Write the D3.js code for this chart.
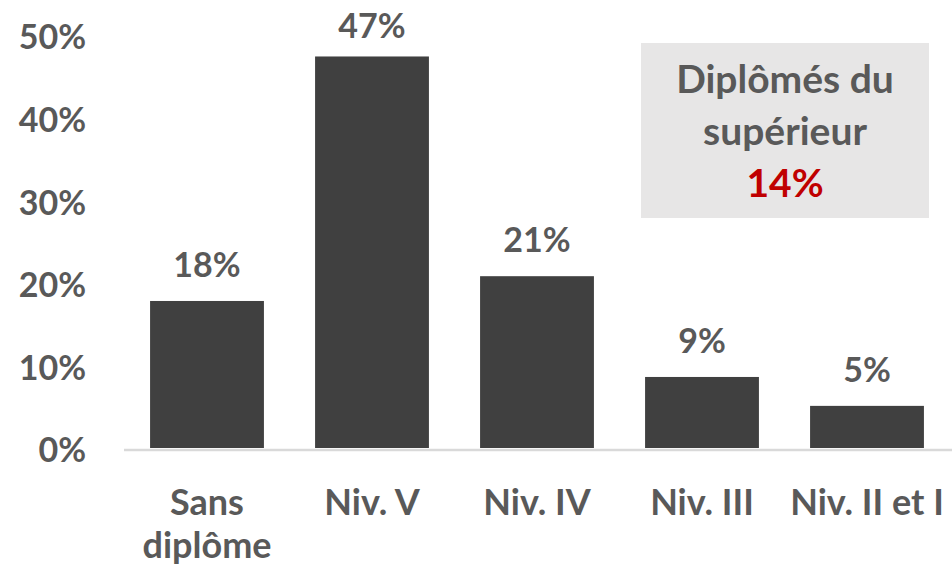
<!DOCTYPE html>
<html><head><meta charset="utf-8">
<script src="https://cdn.jsdelivr.net/npm/d3@7/dist/d3.min.js"></script>
<style>html,body{margin:0;padding:0;background:#fff;}svg{display:block;}</style>
</head><body>
<script>
const categories = [["Sans","diplôme"],["Niv. V"],["Niv. IV"],["Niv. III"],["Niv. II et I"]];
const values = [17.8, 47.4, 20.8, 8.6, 5.1];
const yTicks = [0, 10, 20, 30, 40, 50];
const boxLines = ["Diplômés du", "supérieur"];
const boxValue = "14%";

const W = 952, H = 570;
const FONT = "Lato, 'Open Sans', sans-serif";
const svg = d3.select("body").append("svg").attr("width", W).attr("height", H);

const x = d3.scaleBand().domain(d3.range(categories.length)).range([124.5, 949.5])
  .paddingInner(0.31).paddingOuter(0.155);
const y = d3.scaleLinear().domain([0, 50]).range([448, 35]);

// y axis labels
const yAxis = d3.axisLeft(y).tickValues(yTicks).tickFormat(d => d + "%").tickSize(0).tickPadding(0);
const gy = svg.append("g").attr("transform", "translate(86,2)").call(yAxis);
gy.select(".domain").remove();
gy.selectAll("text").attr("fill", "#595959").style("font-family", FONT)
  .style("font-size", "34px").style("font-weight", "bold").attr("dy", "0.35em");

// bars
svg.selectAll("rect.bar").data(values).join("rect").attr("class", "bar")
  .attr("x", (d, i) => x(i)).attr("width", x.bandwidth())
  .attr("y", d => y(d)).attr("height", d => y(0) - y(d))
  .attr("fill", "#404040");

// baseline
svg.append("line").attr("x1", 124).attr("x2", W).attr("y1", y(0) + 2).attr("y2", y(0) + 2)
  .attr("stroke", "#d9d9d9").attr("stroke-width", 2.5);

// value labels
svg.selectAll("text.val").data(values).join("text").attr("class", "val")
  .attr("x", (d, i) => x(i) + x.bandwidth() / 2)
  .attr("y", d => Math.max(y(d) - 24, 38))
  .attr("text-anchor", "middle").attr("fill", "#595959")
  .style("font-family", FONT).style("font-size", "34px").style("font-weight", "bold")
  .text(d => Math.round(d) + "%");

// category labels
const cat = svg.selectAll("text.cat").data(categories).join("text").attr("class", "cat")
  .attr("x", (d, i) => x(i) + x.bandwidth() / 2).attr("y", 515)
  .attr("text-anchor", "middle").attr("fill", "#595959")
  .style("font-family", FONT).style("font-size", "36px").style("font-weight", "bold");
cat.selectAll("tspan").data((d, i) => d.map(t => ({t, i}))).join("tspan")
  .attr("x", d => x(d.i) + x.bandwidth() / 2)
  .attr("dy", (d, j) => j === 0 ? 0 : 43).text(d => d.t);

// annotation box
svg.append("rect").attr("x", 641).attr("y", 43).attr("width", 288).attr("height", 175).attr("fill", "#e7e6e6");
const bt = svg.append("text").attr("text-anchor", "middle").attr("fill", "#595959")
  .style("font-family", FONT).style("font-size", "39px").style("font-weight", "bold");
boxLines.forEach((t, i) => bt.append("tspan").attr("x", 785).attr("y", 93 + i * 52).text(t));
svg.append("text").attr("x", 785).attr("y", 197).attr("text-anchor", "middle").attr("fill", "#c00000")
  .style("font-family", FONT).style("font-size", "39px").style("font-weight", "bold").text(boxValue);
</script>
</body></html>
